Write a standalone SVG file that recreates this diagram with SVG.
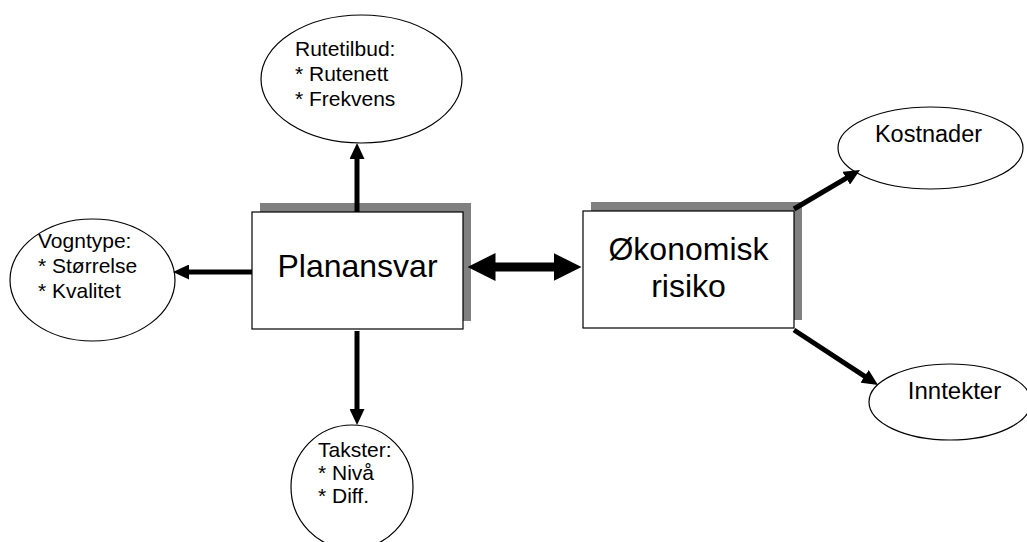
<svg xmlns="http://www.w3.org/2000/svg" width="1027" height="542" viewBox="0 0 1027 542">
  <style>
    .oval { fill: #ffffff; stroke: #000000; stroke-width: 1.2; }
    .box { fill: #ffffff; stroke: #000000; stroke-width: 1.2; }
    .shadow { fill: #808080; }
    .big { font-family: "Liberation Sans", Arial, sans-serif; font-size: 32px; fill: #000000; text-anchor: middle; }
    .list { font-family: "Liberation Sans", Arial, sans-serif; font-size: 21px; fill: #000000; }
    .mid { font-family: "Liberation Sans", Arial, sans-serif; font-size: 23.5px; fill: #000000; text-anchor: middle; }
    .link { stroke: #000000; stroke-width: 5; fill: none; }
    .link2 { stroke: #000000; stroke-width: 9; fill: none; }
  </style>
  <defs>
    <marker id="head" viewBox="0 0 16 15" markerUnits="userSpaceOnUse" markerWidth="16" markerHeight="15" refX="8" refY="7.5" orient="auto">
      <path d="M0,0 L16,7.5 L0,15 z" fill="#000000"/>
    </marker>
    <marker id="bighead" viewBox="0 0 28 28" markerUnits="userSpaceOnUse" markerWidth="28" markerHeight="28" refX="14" refY="14" orient="auto-start-reverse">
      <path d="M0,0 L28,14 L0,28 z" fill="#000000"/>
    </marker>
  </defs>

  <rect width="1027" height="542" fill="#ffffff"/>

  <g id="rutetilbud">
    <ellipse class="oval" cx="361.5" cy="79" rx="100.5" ry="64"/>
    <text class="list" x="295" y="56">Rutetilbud:</text>
    <text class="list" x="295" y="81">* Rutenett</text>
    <text class="list" x="295" y="106">* Frekvens</text>
  </g>

  <g id="vogntype">
    <ellipse class="oval" cx="92.5" cy="280" rx="82.5" ry="61"/>
    <text class="list" x="38" y="248">Vogntype:</text>
    <text class="list" x="38" y="273">* Størrelse</text>
    <text class="list" x="38" y="298">* Kvalitet</text>
  </g>

  <g id="takster">
    <ellipse class="oval" cx="352" cy="487" rx="61" ry="62"/>
    <text class="list" x="318" y="457">Takster:</text>
    <text class="list" x="318" y="480">* Nivå</text>
    <text class="list" x="318" y="503">* Diff.</text>
  </g>

  <g id="kostnader">
    <ellipse class="oval" cx="930.5" cy="148" rx="92.5" ry="41"/>
    <text class="mid" x="928.5" y="142">Kostnader</text>
  </g>

  <g id="inntekter">
    <ellipse class="oval" cx="950" cy="402" rx="81" ry="38"/>
    <text class="mid" x="954.5" y="399" style="font-size:24px">Inntekter</text>
  </g>

  <g id="planansvar">
    <rect class="shadow" x="260" y="203" width="211" height="118"/>
    <rect class="box" x="252" y="212" width="211" height="117"/>
    <text class="big" x="357.5" y="277">Planansvar</text>
  </g>

  <g id="okonomisk-risiko">
    <rect class="shadow" x="591" y="202" width="211" height="118"/>
    <rect class="box" x="583" y="211" width="211" height="117"/>
    <text class="big" x="688.5" y="260">Økonomisk</text>
    <text class="big" x="688.5" y="297">risiko</text>
  </g>

  <g id="connectors">
    <line class="link" x1="357" y1="212" x2="357" y2="151" marker-end="url(#head)"/>
    <line class="link" x1="252" y1="272" x2="181" y2="272" marker-end="url(#head)"/>
    <line class="link" x1="357" y1="331" x2="357" y2="417" marker-end="url(#head)"/>
    <line class="link" x1="794" y1="209" x2="853.1" y2="174.1" marker-end="url(#head)"/>
    <line class="link" x1="794" y1="330" x2="871.3" y2="380.7" marker-end="url(#head)"/>
    <line class="link2" x1="481.5" y1="267" x2="567.5" y2="267" marker-start="url(#bighead)" marker-end="url(#bighead)"/>
  </g>
</svg>
